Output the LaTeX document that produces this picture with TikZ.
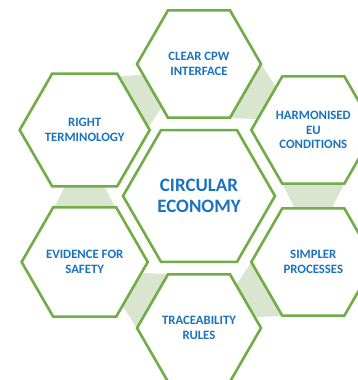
\documentclass[tikz,border=0pt]{standalone}
\usepackage{fontspec}
\setmainfont{Carlito}
\usetikzlibrary{shapes.geometric,calc,backgrounds}
\definecolor{hexgreen}{RGB}{112,173,71}
\definecolor{bandgreen}{RGB}{218,229,207}
\definecolor{textblue}{RGB}{26,114,192}

\begin{document}
\begin{tikzpicture}[x=1bp,y=1bp,
  hexcell/.style={regular polygon,regular polygon sides=6,draw=hexgreen,line width=2.6bp,fill=white,
    minimum size=124bp,inner sep=0pt,outer sep=0pt,align=center,text=textblue,
    font=\fontsize{12.8}{14.5}\selectfont\bfseries},
  hexcore/.style={hexcell,minimum size=152bp,font=\fontsize{19}{21.5}\selectfont\bfseries},
  band/.style={fill=bandgreen}]
\useasboundingbox (-199,-184) rectangle (159,196);

\node[hexcore] (ce) at (0,0) {CIRCULAR\\ECONOMY};

\node[hexcell] (t) at (90:132) {CLEAR CPW\\INTERFACE};
\node[hexcell] (h) at (30:132) {HARMONISED\\EU\\CONDITIONS};
\node[hexcell] (s) at (-30:132) {SIMPLER\\PROCESSES};
\node[hexcell] (tr) at (-90:132) {TRACEABILITY\\RULES};
\node[hexcell] (e) at (-150:132) {EVIDENCE FOR\\SAFETY};
\node[hexcell] (rt) at (150:132) {RIGHT\\TERMINOLOGY};

% links between neighbouring cells, wide side first
\begin{scope}[on background layer]
\foreach \a/\p/\q in {90/t/h,30/h/s,-30/s/tr,-90/tr/e,-150/e/rt,150/rt/t}
  \fill[band] ($(\p.center)+(\a-90:62)$)
    -- ($(\q.center)+0.8*(\a+30:62)+0.2*(\a+90:62)$)
    -- ($(\q.center)+0.2*(\a+30:62)+0.8*(\a+90:62)$)
    -- ($(\p.center)+(\a-150:62)$) -- cycle;
\end{scope}
\end{tikzpicture}
\end{document}
